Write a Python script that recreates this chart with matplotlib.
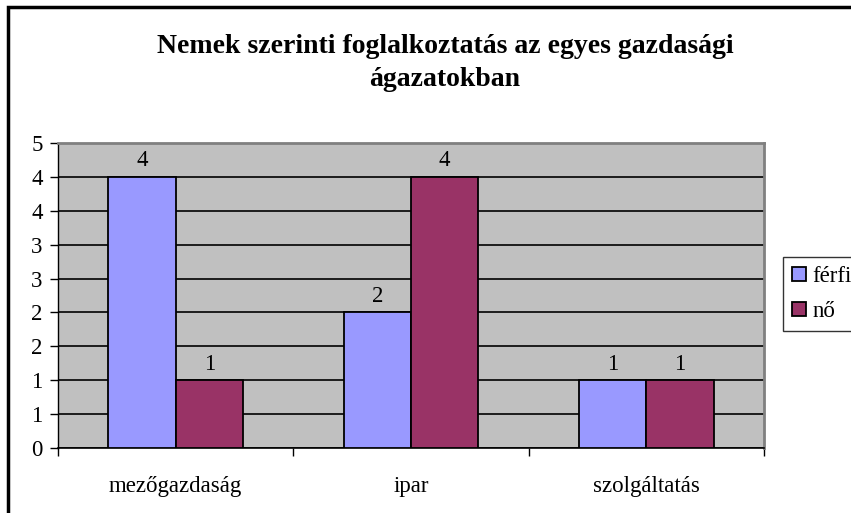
import numpy as np
import matplotlib.pyplot as plt
from matplotlib.patches import Rectangle
from matplotlib.ticker import FuncFormatter, FixedLocator

plt.rcParams['font.family'] = ['Liberation Serif', 'DejaVu Serif']

categories = ['mezőgazdaság', 'ipar', 'szolgáltatás']
ferfi = [4, 2, 1]
no = [1, 4, 1]
series_names = ['férfi', 'nő']
title = 'Nemek szerinti foglalkoztatás az egyes gazdasági\nágazatokban'

W, H = 851, 513
fig = plt.figure(figsize=(W / 100, H / 100), dpi=100)
ax = fig.add_axes([58 / W, 1 - 448 / H, (764 - 58) / W, (448 - 143) / H])
ax.set_facecolor('#C0C0C0')

x = np.arange(len(categories)) + 0.5
w = 1 / 3.5
b1 = ax.bar(x - w / 2, ferfi, w, color='#9999FF', edgecolor='black', linewidth=1.3,
            label=series_names[0], zorder=3)
b2 = ax.bar(x + w / 2, no, w, color='#993366', edgecolor='black', linewidth=1.3,
            label=series_names[1], zorder=3)
for bars in (b1, b2):
    ax.bar_label(bars, labels=[str(v) for v in bars.datavalues], padding=4, fontsize=16.5)

ax.set_xlim(0, 3)
ax.set_ylim(0, 4.5)
ax.yaxis.set_major_locator(FixedLocator(np.arange(0, 4.51, 0.5)))
ax.yaxis.set_major_formatter(FuncFormatter(lambda v, p: '%d' % int(v + 0.5)))
ax.grid(axis='y', color='black', linewidth=1.2, zorder=1)
ax.set_axisbelow(True)

ax.set_xticks([0, 1, 2, 3])
ax.set_xticklabels([])
ax.set_xticks(x, minor=True)
ax.set_xticklabels(categories, minor=True, fontsize=16.5)
ax.tick_params(axis='x', which='minor', length=0, pad=20)
ax.tick_params(axis='x', which='major', length=6, width=1, direction='out')
ax.tick_params(axis='y', length=6, width=1, direction='out', pad=5, labelsize=16.5)

for s in ['top', 'right']:
    ax.spines[s].set_color('#808080')
    ax.spines[s].set_linewidth(2)
ax.spines['left'].set_color('black')
ax.spines['bottom'].set_color('black')
ax.spines['left'].set_linewidth(1)
ax.spines['bottom'].set_linewidth(1.2)

fig.text(445 / W, 1 - 63 / H, title, ha='center', va='center', fontsize=20,
         fontweight='bold', linespacing=1.45)

leg = fig.legend(loc='upper left', bbox_to_anchor=(783 / W, 1 - 257 / H),
                 fontsize=16.5, frameon=True, fancybox=False, edgecolor='black',
                 handlelength=0.6, handleheight=0.6, handletextpad=0.3,
                 borderpad=0.4, labelspacing=0.6, borderaxespad=0)
leg.get_frame().set_linewidth(1)

fig.patches.append(Rectangle((8 / W, -0.5), 1.5, 1.5 - 7 / H, transform=fig.transFigure,
                             fill=False, edgecolor='black', linewidth=2.5, clip_on=False))

fig.savefig('out.png', dpi=100)
